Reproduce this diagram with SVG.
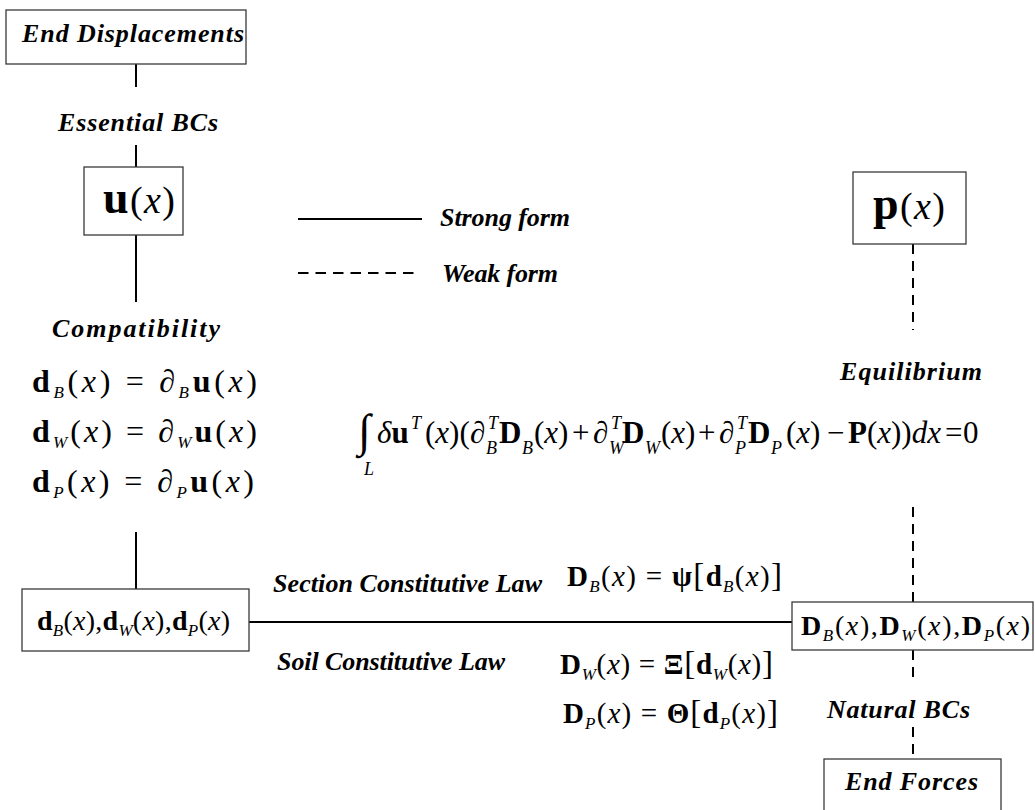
<svg xmlns="http://www.w3.org/2000/svg" width="1035" height="810" viewBox="0 0 1035 810">
<style>
.box{fill:#fff;stroke:#3a3a3a;stroke-width:1.3}
.ln{stroke:#000;stroke-width:2;fill:none}
.dash{stroke:#000;stroke-width:2;fill:none;stroke-dasharray:10 7}
.lbl{font-family:"Liberation Serif","Times New Roman",serif;font-weight:bold;font-style:italic;font-size:26px;fill:#000}
.m{font-family:"Liberation Serif","Times New Roman",serif;font-size:28px;fill:#000}
.me{font-family:"Liberation Serif","Times New Roman",serif;font-size:29px;fill:#000}
.mc{font-family:"Liberation Serif","Times New Roman",serif;font-size:32px;fill:#000}
.mi{font-family:"Liberation Serif","Times New Roman",serif;font-size:31px;fill:#000}
.mn{font-family:"Liberation Serif","Times New Roman",serif;font-size:38px;fill:#000}
.b{font-weight:bold;font-style:normal}
.i{font-style:italic}
.s{font-size:17px;font-style:italic;font-weight:normal}
.s2{font-size:18px;font-style:italic;font-weight:normal}
.big{font-size:46px}
.br{font-size:33px}
</style>
<rect width="1035" height="810" fill="#fff"/>
<g id="connectors">
<line class="ln" x1="136" y1="64" x2="136" y2="87"/>
<line class="ln" x1="136" y1="145" x2="136" y2="167"/>
<line class="ln" x1="136" y1="235" x2="136" y2="302"/>
<line class="ln" x1="136" y1="532" x2="136" y2="589"/>
<line class="ln" x1="249" y1="622" x2="792" y2="622"/>
<line class="dash" x1="913" y1="244" x2="913" y2="330"/>
<line class="dash" x1="913" y1="507" x2="913" y2="602"/>
<line class="dash" x1="913" y1="650" x2="913" y2="684"/>
<line class="dash" x1="913" y1="727" x2="913" y2="759"/>
</g>
<g id="legend">
<line class="ln" x1="298" y1="219" x2="422" y2="219"/>
<line class="ln" x1="298" y1="273" x2="420" y2="273" stroke-dasharray="10.5 7"/>
<text class="lbl" x="440" y="226" textLength="130">Strong form</text>
<text class="lbl" x="442" y="282" textLength="116">Weak form</text>
</g>
<g id="end-displacements">
<rect class="box" x="6" y="10" width="240" height="54"/>
<text class="lbl" x="22" y="42" textLength="222">End Displacements</text>
</g>
<g id="u-node">
<rect class="box" x="84" y="167" width="99" height="68"/>
<text class="mn" x="103" y="213" textLength="72"><tspan class="b big">u</tspan>(<tspan class="i">x</tspan>)</text>
</g>
<g id="p-node">
<rect class="box" x="853" y="172" width="113" height="72"/>
<text class="mn" x="873" y="219" textLength="72"><tspan class="b big">p</tspan>(<tspan class="i">x</tspan>)</text>
</g>
<g id="d-node">
<rect class="box" x="22" y="589" width="227" height="62"/>
<text class="m" x="37" y="630" textLength="193"><tspan class="b">d</tspan><tspan class="s" dy="6">B</tspan><tspan dy="-6">(</tspan><tspan class="i">x</tspan>),<tspan class="b">d</tspan><tspan class="s" dy="6">W</tspan><tspan dy="-6">(</tspan><tspan class="i">x</tspan>),<tspan class="b">d</tspan><tspan class="s" dy="6">P</tspan><tspan dy="-6">(</tspan><tspan class="i">x</tspan>)</text>
</g>
<g id="D-node">
<rect class="box" x="792" y="602" width="241" height="48"/>
<text class="m" x="801" y="635" textLength="229"><tspan class="b">D</tspan><tspan class="s" dy="6">B</tspan><tspan dy="-6">(</tspan><tspan class="i">x</tspan>),<tspan class="b">D</tspan><tspan class="s" dy="6">W</tspan><tspan dy="-6">(</tspan><tspan class="i">x</tspan>),<tspan class="b">D</tspan><tspan class="s" dy="6">P</tspan><tspan dy="-6">(</tspan><tspan class="i">x</tspan>)</text>
</g>
<g id="end-forces">
<rect class="box" x="824" y="759" width="177" height="60"/>
<text class="lbl" x="845" y="790" textLength="133">End Forces</text>
</g>
<g id="labels">
<text class="lbl" x="58" y="131" textLength="160">Essential BCs</text>
<text class="lbl" x="52" y="337" textLength="168">Compatibility</text>
<text class="lbl" x="840" y="380" textLength="142">Equilibrium</text>
<text class="lbl" x="273" y="592" textLength="269">Section Constitutive Law</text>
<text class="lbl" x="277" y="670" textLength="228">Soil Constitutive Law</text>
<text class="lbl" x="827" y="718" textLength="143">Natural BCs</text>
</g>
<g id="equations">
<text class="mc" x="32" y="392" textLength="225"><tspan class="b">d</tspan><tspan class="s" dy="6">B</tspan><tspan dy="-6">(</tspan><tspan class="i">x</tspan>) = ∂<tspan class="s" dy="6">B</tspan><tspan class="b" dy="-6">u</tspan>(<tspan class="i">x</tspan>)</text>
<text class="mc" x="32" y="442" textLength="225"><tspan class="b">d</tspan><tspan class="s" dy="6">W</tspan><tspan dy="-6">(</tspan><tspan class="i">x</tspan>) = ∂<tspan class="s" dy="6">W</tspan><tspan class="b" dy="-6">u</tspan>(<tspan class="i">x</tspan>)</text>
<text class="mc" x="32" y="492" textLength="222"><tspan class="b">d</tspan><tspan class="s" dy="6">P</tspan><tspan dy="-6">(</tspan><tspan class="i">x</tspan>) = ∂<tspan class="s" dy="6">P</tspan><tspan class="b" dy="-6">u</tspan>(<tspan class="i">x</tspan>)</text>
<text class="me" x="567" y="586" textLength="215"><tspan class="b">D</tspan><tspan class="s" dy="6">B</tspan><tspan dy="-6">(</tspan><tspan class="i">x</tspan>) = <tspan class="b">ψ</tspan><tspan class="br">[</tspan><tspan class="b">d</tspan><tspan class="s" dy="6">B</tspan><tspan dy="-6">(</tspan><tspan class="i">x</tspan>)<tspan class="br">]</tspan></text>
<text class="me" x="560" y="674" textLength="213"><tspan class="b">D</tspan><tspan class="s" dy="6">W</tspan><tspan dy="-6">(</tspan><tspan class="i">x</tspan>) = <tspan class="b">Ξ</tspan><tspan class="br">[</tspan><tspan class="b">d</tspan><tspan class="s" dy="6">W</tspan><tspan dy="-6">(</tspan><tspan class="i">x</tspan>)<tspan class="br">]</tspan></text>
<text class="me" x="563" y="723" textLength="215"><tspan class="b">D</tspan><tspan class="s" dy="6">P</tspan><tspan dy="-6">(</tspan><tspan class="i">x</tspan>) = <tspan class="b">Θ</tspan><tspan class="br">[</tspan><tspan class="b">d</tspan><tspan class="s" dy="6">P</tspan><tspan dy="-6">(</tspan><tspan class="i">x</tspan>)<tspan class="br">]</tspan></text>
<text class="mi" y="443"><tspan x="358" y="446" class="big">∫</tspan><tspan x="364" y="475" class="s2">L</tspan><tspan x="377" y="443" class="i">δ</tspan><tspan class="b">u</tspan><tspan x="411" y="429" class="s2">T</tspan><tspan x="425" y="443">(</tspan><tspan class="i">x</tspan>)(<tspan x="470">∂</tspan><tspan x="488" y="429" class="s2">T</tspan><tspan x="486" y="454" class="s2">B</tspan><tspan x="499" y="443" class="b">D</tspan><tspan x="522" y="454" class="s2">B</tspan><tspan x="534" y="443">(</tspan><tspan class="i">x</tspan>)<tspan x="572">+</tspan><tspan x="593">∂</tspan><tspan x="611" y="429" class="s2">T</tspan><tspan x="609" y="454" class="s2">W</tspan><tspan x="622" y="443" class="b">D</tspan><tspan x="645" y="454" class="s2">W</tspan><tspan x="661" y="443">(</tspan><tspan class="i">x</tspan>)<tspan x="698">+</tspan><tspan x="719">∂</tspan><tspan x="737" y="429" class="s2">T</tspan><tspan x="735" y="454" class="s2">P</tspan><tspan x="748" y="443" class="b">D</tspan><tspan x="771" y="454" class="s2">P</tspan><tspan x="786" y="443">(</tspan><tspan class="i">x</tspan>)<tspan x="827">−</tspan><tspan x="848" class="b">P</tspan>(<tspan class="i">x</tspan>))<tspan class="i">dx</tspan><tspan x="945">=</tspan><tspan x="963">0</tspan></text>
</g>
</svg>
